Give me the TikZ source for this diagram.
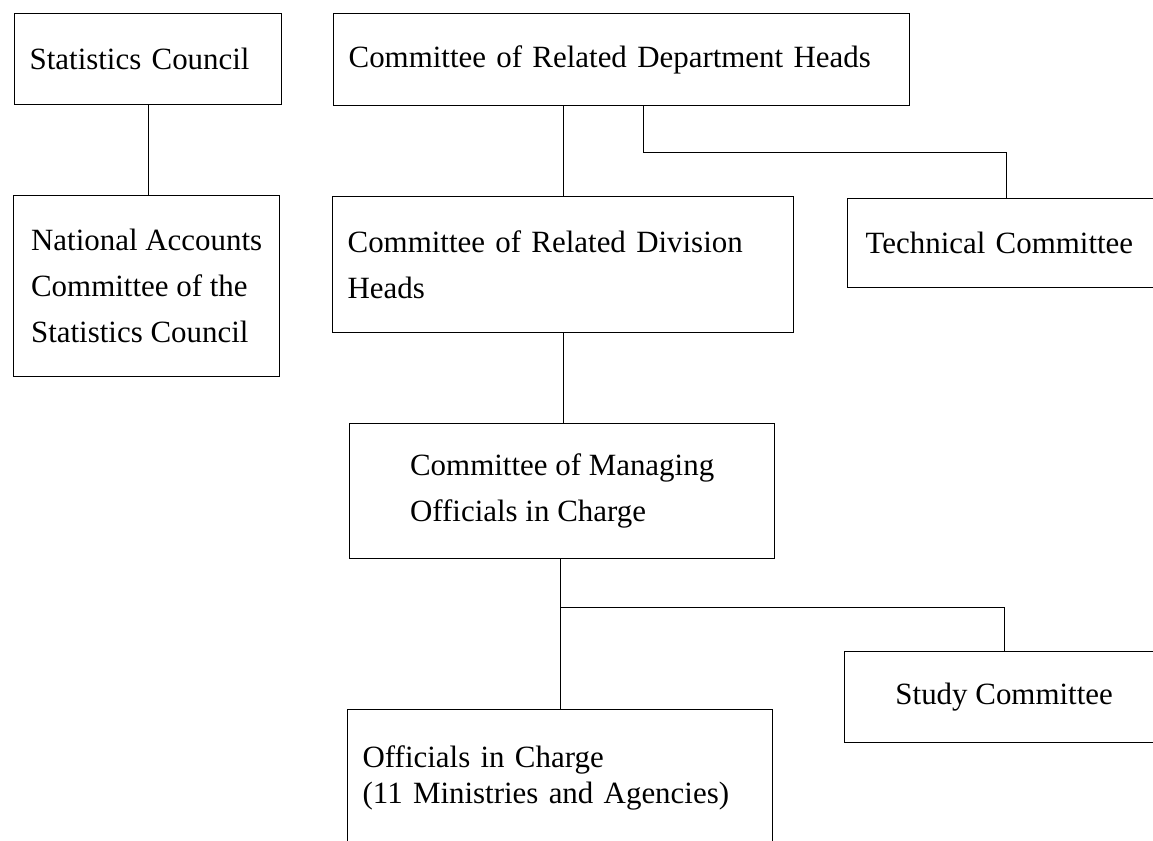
\documentclass[tikz,border=0pt]{standalone}
\usepackage{fontspec}
\setmainfont{Liberation Serif}
\begin{document}
\begin{tikzpicture}
\tikzstyle{unit}=[draw, rectangle, line width=0.9pt, anchor=north west, inner ysep=0pt, font=\fontsize{22}{32.7}\selectfont]
\tikzstyle{link}=[draw, line width=0.9pt]

% Page frame
\useasboundingbox (0,0) rectangle (28.825,-21.025);
\clip (0,0) rectangle (28.825,-21.025);

% Define units
\node[unit, inner xsep=0.375cm, text width=5.925cm, minimum height=2.275cm, align=left] (council) at (0.35,-0.325) {Statistics Council};
\node[unit, minimum width=6.65cm, minimum height=4.525cm, align=left] (accounts) at (0.325,-4.875) {National Accounts\\Committee of the\\Statistics Council};
\node[unit, inner xsep=0.375cm, text width=13.65cm, minimum height=2.3cm, align=left] (depthead) at (8.325,-0.325) {Committee of Related Department Heads};
\node[unit, inner xsep=0.375cm, text width=10.775cm, minimum height=3.4cm, align=left] (division) at (8.3,-4.9) {Committee of Related Division\\Heads};
\node[unit, inner xsep=0.45cm, text width=7.05cm, minimum height=2.225cm, align=left] (technical) at (21.175,-4.95) {Technical Committee};
\node[unit, minimum width=10.625cm, minimum height=3.375cm, align=left] (managing) at (8.725,-10.575) {Committee of Managing\\Officials in Charge};
\node[unit, minimum width=7.975cm, minimum height=2.275cm] (study) at (21.1,-16.275) {Study Committee};
\node[unit, inner xsep=0.375cm, text width=9.875cm, minimum height=3.4cm, align=left, font=\fontsize{22}{25.6}\selectfont] (officials) at (8.675,-17.725) {Officials in Charge\\(11 Ministries and Agencies)};

% Draw links
\draw[link] (council.south) -- (council.south |- accounts.north);
\draw[link] (division.north) -- (division.north |- depthead.south);
\draw[link] ([xshift=0.55cm]depthead.south) -- ++(0,-1.15) -| (technical.north);
\draw[link] (division.south) -- (division.south |- managing.north);
\draw[link] (officials.north |- managing.south) -- (officials.north);
\draw[link] (officials.north |- managing.south) ++(0,-1.2) -| (study.north);
\end{tikzpicture}
\end{document}
